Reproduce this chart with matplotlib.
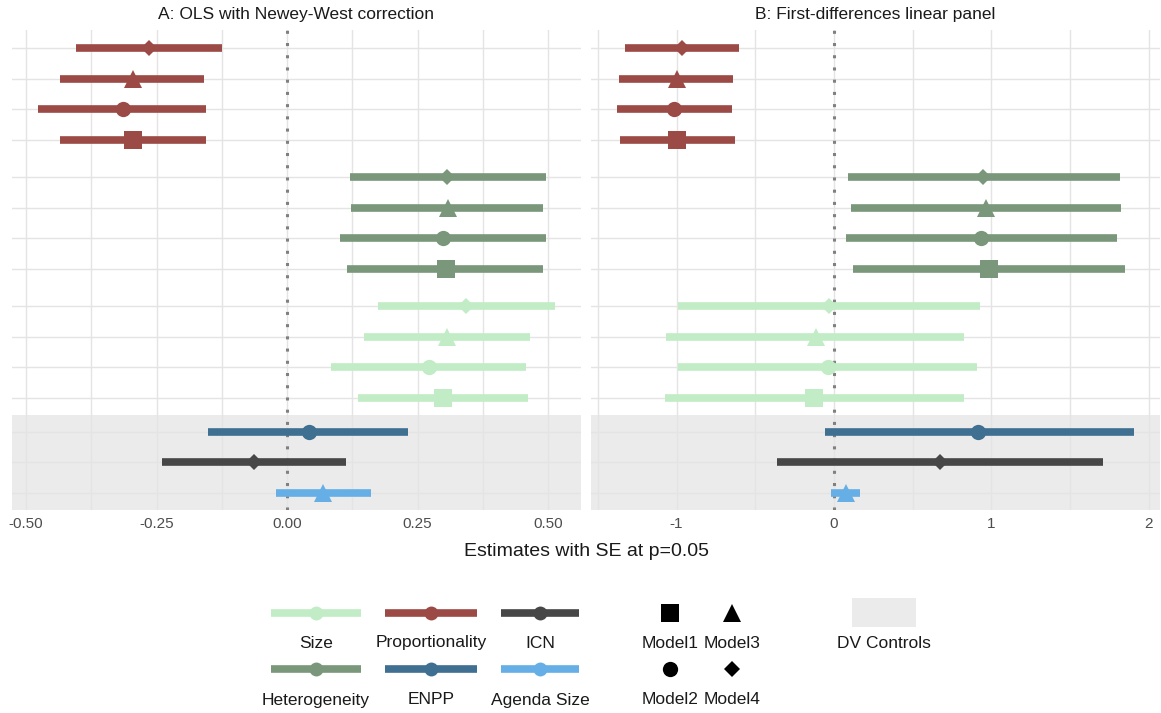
import matplotlib.pyplot as plt
from matplotlib.patches import Rectangle

plt.rcParams['font.family'] = ['Liberation Sans', 'DejaVu Sans']

# rows, top to bottom
row_terms = ['Proportionality'] * 4 + ['Heterogeneity'] * 4 + ['Size'] * 4 + ['ENPP', 'ICN', 'Agenda Size']
row_models = ['Model4', 'Model3', 'Model2', 'Model1'] * 3 + ['Model2', 'Model4', 'Model3']

# panel A: OLS with Newey-West correction
est_a = [-0.264, -0.295, -0.314, -0.295,
         0.307, 0.308, 0.299, 0.305,
         0.343, 0.307, 0.272, 0.299,
         0.042, -0.063, 0.069]
lo_a = [-0.404, -0.435, -0.477, -0.435,
        0.121, 0.123, 0.102, 0.115,
        0.174, 0.148, 0.084, 0.136,
        -0.151, -0.239, -0.021]
hi_a = [-0.125, -0.159, -0.155, -0.155,
        0.496, 0.490, 0.496, 0.490,
        0.513, 0.466, 0.458, 0.462,
        0.232, 0.113, 0.161]

# panel B: first-differences linear panel
est_b = [-0.965, -0.997, -1.016, -0.997,
         0.944, 0.968, 0.935, 0.987,
         -0.032, -0.114, -0.041, -0.124,
         0.916, 0.674, 0.076]
lo_b = [-1.327, -1.365, -1.378, -1.359,
        0.086, 0.105, 0.076, 0.123,
        -0.992, -1.067, -0.992, -1.074,
        -0.060, -0.359, -0.020]
hi_b = [-0.603, -0.641, -0.648, -0.629,
        1.813, 1.822, 1.794, 1.850,
        0.928, 0.824, 0.907, 0.824,
        1.905, 1.711, 0.168]

term_colors = {
    'Proportionality': '#9C4A45',
    'Heterogeneity': '#7B977B',
    'Size': '#C1ECC5',
    'ENPP': '#3F6F91',
    'ICN': '#474747',
    'Agenda Size': '#66AFE6',
}
model_markers = {'Model1': ('s', 12.5), 'Model2': ('o', 11), 'Model3': ('^', 13), 'Model4': ('D', 8.5)}

# small gaps between term groups
gaps = {'Heterogeneity': 0.2, 'Size': 0.2, 'ENPP': 0.1}
ypos = []
y = 0.0
for i, t in enumerate(row_terms):
    if i > 0:
        y += 1.0
        if t != row_terms[i - 1]:
            y += gaps.get(t, 0.0)
    ypos.append(y)

W, H = 1161, 713
fig = plt.figure(figsize=(W / 100, H / 100), dpi=100)


def draw_panel(rect, est, lo, hi, xlim, major, minor, ticklabels, title):
    ax = fig.add_axes(rect)
    ax.set_xlim(*xlim)
    ax.set_ylim(15.05, -0.59)
    for s in ax.spines.values():
        s.set_visible(False)
    ax.add_patch(Rectangle((xlim[0], 11.95), xlim[1] - xlim[0], 15.05 - 11.95,
                           color='#EBEBEB', zorder=0, lw=0))
    for v in minor + major:
        ax.axvline(v, color='#E4E4E4', lw=1.0, zorder=0.5)
    for yy in ypos:
        ax.axhline(yy, color='#E4E4E4', lw=1.0, zorder=0.5)
    ax.axvline(0, color='#808080', lw=2.2, ls=(0, (1, 3)), zorder=1)
    for yy, t, m, e, l, h in zip(ypos, row_terms, row_models, est, lo, hi):
        c = term_colors[t]
        ax.plot([l, h], [yy, yy], color=c, lw=5.5, solid_capstyle='butt', zorder=2)
        mk, ms = model_markers[m]
        ax.plot([e], [yy], marker=mk, ms=ms, color=c, mec=c, mew=0, zorder=3)
    ax.set_xticks(major)
    ax.set_xticklabels(ticklabels)
    ax.set_yticks([])
    ax.tick_params(axis='x', length=0, pad=5, labelsize=11, labelcolor='#4D4D4D')
    x0, w = rect[0], rect[2]
    fig.text(x0 + w / 2, 1 - 14 / H, title, ha='center', va='center', fontsize=12.5, color='#1A1A1A')
    return ax


bottom = (H - 510) / H
height = 480 / H
draw_panel([12 / W, bottom, 569 / W, height], est_a, lo_a, hi_a, (-0.527, 0.563),
           [-0.5, -0.25, 0, 0.25, 0.5], [-0.375, -0.125, 0.125, 0.375],
           ['-0.50', '-0.25', '0.00', '0.25', '0.50'], 'A: OLS with Newey-West correction')
draw_panel([591 / W, bottom, 569 / W, height], est_b, lo_b, hi_b, (-1.543, 2.07),
           [-1, 0, 1, 2], [-1.5, -0.5, 0.5, 1.5],
           ['-1', '0', '1', '2'], 'B: First-differences linear panel')

fig.text(586 / W, 1 - 552 / H, 'Estimates with SE at p=0.05', ha='center', va='center',
         fontsize=14, color='#1A1A1A')

# legend drawn in pixel space
leg = fig.add_axes([0, 0, 1, 1], zorder=-1)
leg.set_xlim(0, W)
leg.set_ylim(H, 0)
leg.axis('off')

legend_rows = [['Size', 'Proportionality', 'ICN'], ['Heterogeneity', 'ENPP', 'Agenda Size']]
col_centers = [316, 431, 540]
col_half = [45, 46, 39]
row_key_y = [613, 669]
row_lab_y = [643, 700]
for r, names in enumerate(legend_rows):
    for c, name in enumerate(names):
        col = term_colors[name]
        cx = col_centers[c]
        leg.plot([cx - col_half[c], cx + col_half[c]], [row_key_y[r]] * 2, color=col, lw=5.5,
                 solid_capstyle='butt')
        leg.plot([cx], [row_key_y[r]], marker='o', ms=10, color=col, mew=0)
        leg.text(cx, row_lab_y[r], name, ha='center', va='center', fontsize=12.5, color='#1A1A1A')

shape_rows = [['Model1', 'Model3'], ['Model2', 'Model4']]
shape_x = [670, 732]
for r, names in enumerate(shape_rows):
    for c, name in enumerate(names):
        mk, ms = model_markers[name]
        leg.plot([shape_x[c]], [row_key_y[r]], marker=mk, ms=ms, color='black', mew=0)
        leg.text(shape_x[c], row_lab_y[r], name, ha='center', va='center', fontsize=12.5, color='#1A1A1A')

leg.add_patch(Rectangle((852, 598), 64, 29, color='#EBEBEB', lw=0))
leg.text(884, 643, 'DV Controls', ha='center', va='center', fontsize=12.5, color='#1A1A1A')

fig.savefig('out.png', dpi=100)
